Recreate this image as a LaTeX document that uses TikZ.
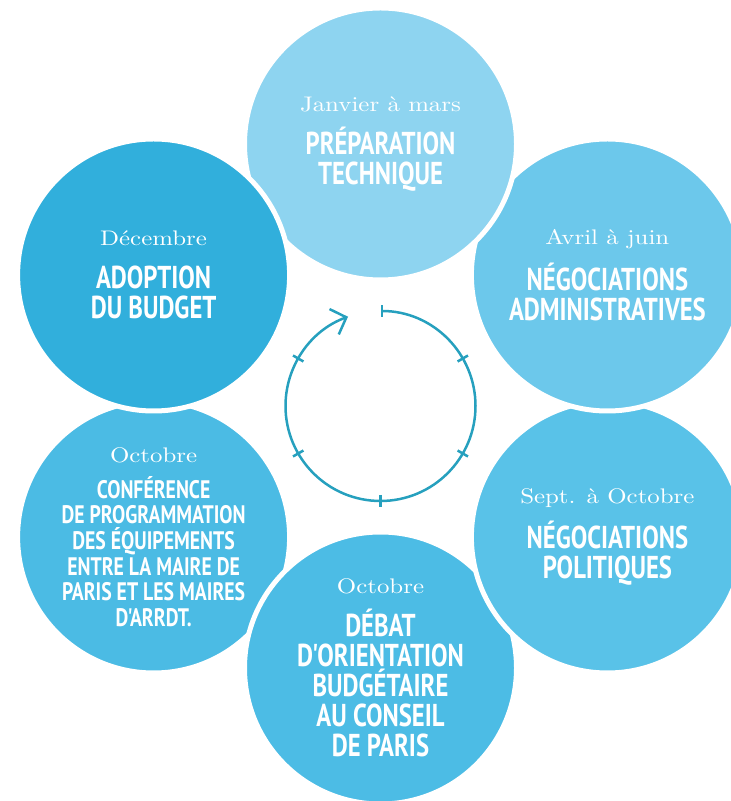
\documentclass[tikz,border=0pt]{standalone}
\usepackage{fontspec}
\usetikzlibrary{arrows.meta}

\newfontfamily\titrefont[FakeStretch=0.78]{PT Sans}
\newfontfamily\moisfont[FakeStretch=1.18]{lmroman10-regular.otf}
\newcommand{\mois}[1]{{\moisfont\fontsize{12}{14}\selectfont #1}}

\definecolor{bleuprep}{RGB}{142,212,240}
\definecolor{bleuadm}{RGB}{108,200,235}
\definecolor{bleupol}{RGB}{89,194,232}
\definecolor{bleudeb}{RGB}{76,188,229}
\definecolor{bleuconf}{RGB}{75,187,228}
\definecolor{bleuadopt}{RGB}{49,175,220}
\definecolor{bleucycle}{RGB}{38,160,190}

\tikzset{
  etape/.style={circle, minimum size=5.44cm, inner sep=0pt, draw=white, line width=1mm,
    text=white, align=center, font=\titrefont\bfseries\fontsize{18}{17.2}\selectfont},
  trait/.style={bleucycle, line width=0.5mm},
}

\begin{document}
\begin{tikzpicture}
\useasboundingbox (0,0) rectangle (14.62,16.02);
\coordinate (centre) at (7.61,7.9);

%Cercles
\node[etape, fill=bleuconf, font=\titrefont\bfseries\fontsize{14.4}{14.6}\selectfont] (conf) at ([shift={(210:5.24)}]centre)
  {\mois{Octobre}\\[6pt]CONFÉRENCE\\DE PROGRAMMATION\\DES ÉQUIPEMENTS\\ENTRE LA MAIRE DE\\PARIS ET LES MAIRES\\D'ARRDT.};
\node[etape, fill=bleudeb] (debat) at ([shift={(270:5.24)}]centre)
  {\mois{Octobre}\\[7pt]DÉBAT\\D'ORIENTATION\\BUDGÉTAIRE\\AU CONSEIL\\DE PARIS};
\node[etape, fill=bleupol] (negpol) at ([shift={(330:5.24)}]centre)
  {\mois{Sept. à Octobre}\\[7pt]NÉGOCIATIONS\\POLITIQUES};
\node[etape, fill=bleuadm] (negadm) at ([shift={(30:5.24)}]centre)
  {\mois{Avril à juin}\\[7pt]NÉGOCIATIONS\\ADMINISTRATIVES};
\node[etape, fill=bleuprep] (prep) at ([shift={(90:5.24)}]centre)
  {\mois{Janvier à mars}\\[7pt]PRÉPARATION\\TECHNIQUE};
\node[etape, fill=bleuadopt] (adopt) at ([shift={(150:5.24)}]centre)
  {\mois{Décembre}\\[7pt]ADOPTION\\DU BUDGET};

%Cycle
\draw[trait, {Bar[width=2.4mm]}-{Straight Barb[length=2.6mm,width=5.4mm]}]
  ([shift={(90:1.9)}]centre) arc[start angle=90, end angle=-250, radius=1.9];
\foreach \a in {30,-30,-90,-150,150}
  \draw[trait] ([shift={(\a:1.78)}]centre) -- ([shift={(\a:2.02)}]centre);
\end{tikzpicture}
\end{document}
